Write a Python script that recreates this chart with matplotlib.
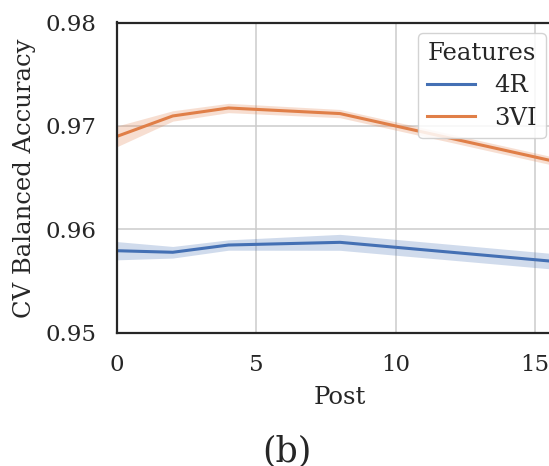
import matplotlib
matplotlib.use("Agg")
import matplotlib.pyplot as plt
import numpy as np

post = [0, 2, 4, 8, 16]
acc_4r = [0.95795, 0.9578, 0.9585, 0.95876, 0.95684]
err_4r = [0.00088, 0.00056, 0.0005, 0.00077, 0.00075]
acc_3vi = [0.9690, 0.97097, 0.97174, 0.9712, 0.9664]
err_3vi = [0.001, 0.0005, 0.00045, 0.0004, 0.0004]
series = [("4R", acc_4r, err_4r, "#4470b4"), ("3VI", acc_3vi, err_3vi, "#e07f48")]
yticks = [0.95, 0.96, 0.97, 0.98]
xticks = [0, 5, 10, 15]

plt.rcParams["font.family"] = ["DejaVu Serif"]
tfs = 16.5
lfs = 17.5

fig = plt.figure(figsize=(5.49, 4.66), dpi=100)
ax = fig.add_axes([117/549, 133/466, 446/549, 310.5/466])

for name, vals, errs, col in series:
    v = np.array(vals); e = np.array(errs)
    ax.fill_between(post, v - e, v + e, color=col, alpha=0.25, lw=0)
    ax.plot(post, v, color=col, lw=2.2, label=name)

ax.set_xlim(0, 16)
ax.set_ylim(0.95, 0.98)
ax.set_xticks(xticks)
ax.set_yticks(yticks)
ax.set_xticklabels([str(t) for t in xticks], fontsize=tfs, color="#262626")
ax.set_yticklabels([f"{t:.2f}" for t in yticks], fontsize=tfs, color="#262626")
ax.tick_params(axis="x", length=0, pad=15)
ax.tick_params(axis="y", length=0, pad=14.5)
ax.grid(True, color="#cccccc", lw=1.1)
ax.set_axisbelow(True)
for s in ["left", "bottom", "top", "right"]:
    ax.spines[s].set_color("#262626")
    ax.spines[s].set_linewidth(1.6)

ax.set_xlabel("Post", fontsize=lfs, color="#262626", labelpad=7)
ax.set_ylabel("CV Balanced Accuracy", fontsize=lfs, color="#262626", labelpad=7)

leg = ax.legend(title="Features", fontsize=17.5, title_fontsize=17.5, loc="upper left",
                bbox_to_anchor=((418-117)/446, (333-33)/310.5),
                frameon=True, fancybox=True, borderaxespad=0, handlelength=2.0,
                labelspacing=0.4, borderpad=0.35)
leg.get_frame().set_edgecolor("#cccccc")
leg.get_frame().set_linewidth(1.0)
leg.get_frame().set_alpha(0.85)
for t in leg.get_texts():
    t.set_color("#262626")
leg.get_title().set_color("#262626")

fig.text(287/549, 1 - 461/466, "(b)", fontsize=25, ha="center", va="baseline", color="#262626")

fig.savefig("out.png", dpi=100)
